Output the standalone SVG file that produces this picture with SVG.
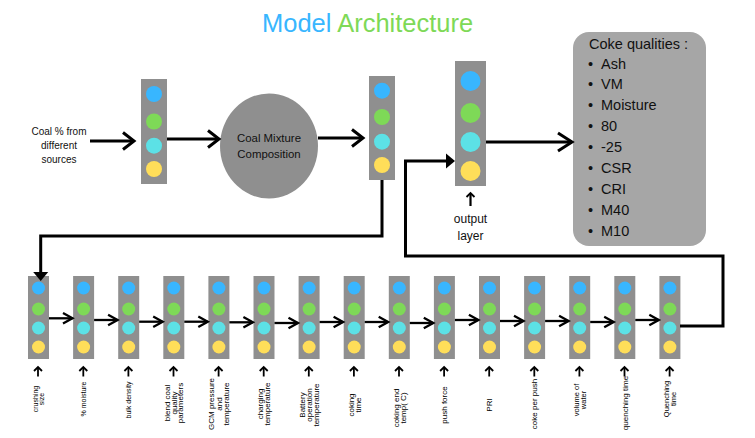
<svg xmlns="http://www.w3.org/2000/svg" width="755" height="438" viewBox="0 0 755 438">
<style>
text{font-family:"Liberation Sans",Arial,sans-serif;fill:#111}
.lay{fill:#8f8f8f}
.b{fill:#38b6ff}.g{fill:#7ed957}.c{fill:#5ce1e6}.y{fill:#ffde59}
.ln{fill:none;stroke:#000;stroke-width:3;stroke-linejoin:miter}
.sm{fill:none;stroke:#000;stroke-width:2.3}
.up{fill:none;stroke:#000;stroke-width:1.8}
.lbl{font-size:8px;text-anchor:middle;fill:#000}
.ck{font-size:14.5px}
</style>
<defs>
<marker id="chev" markerUnits="userSpaceOnUse" markerWidth="20" markerHeight="20" refX="11" refY="8.5" orient="auto" overflow="visible"><path d="M0,0 L11,8.5 L0,17" fill="none" stroke="#000" stroke-width="3"/></marker>
<marker id="chevL" markerUnits="userSpaceOnUse" markerWidth="20" markerHeight="20" refX="14" refY="9" orient="auto" overflow="visible"><path d="M0,0 L14,9 L0,18" fill="none" stroke="#000" stroke-width="3"/></marker>
<marker id="chevS" markerUnits="userSpaceOnUse" markerWidth="14" markerHeight="14" refX="9.5" refY="5.3" orient="auto" overflow="visible"><path d="M0,0 L9.5,5.3 L0,10.6" fill="none" stroke="#000" stroke-width="2.3"/></marker>
<marker id="chevU" markerUnits="userSpaceOnUse" markerWidth="8" markerHeight="10" refX="4" refY="4" orient="auto" overflow="visible"><path d="M0,0 L4,4 L0,8" fill="none" stroke="#000" stroke-width="1.8"/></marker>
<marker id="tri" markerUnits="userSpaceOnUse" markerWidth="12" markerHeight="16" refX="0" refY="7.5" orient="auto" overflow="visible"><path d="M0,0 L9,7.5 L0,15 Z" fill="#000"/></marker>
</defs>

<text x="262" y="32" style="font-size:25.5px"><tspan style="fill:#38b6ff">Model</tspan><tspan style="fill:#7ed957"> Architecture</tspan></text>

<g id="input-label">
<text x="59" y="135.3" style="font-size:10px;text-anchor:middle">Coal % from</text>
<text x="59" y="149.2" style="font-size:10px;text-anchor:middle">different</text>
<text x="59" y="162.6" style="font-size:10px;text-anchor:middle">sources</text>
</g>

<g id="input-layer">
<rect class="lay" x="141" y="79" width="26" height="105"/>
<circle class="b" cx="154" cy="94" r="8"/><circle class="g" cx="154" cy="121.5" r="8"/><circle class="c" cx="154" cy="145.7" r="8"/><circle class="y" cx="154" cy="169" r="8"/>
</g>

<g id="coal-mixture">
<ellipse cx="269" cy="146" rx="49" ry="52.5" fill="#8f8f8f"/>
<text x="269" y="142.4" style="font-size:11.4px;text-anchor:middle">Coal Mixture</text>
<text x="269" y="158.4" style="font-size:11.4px;text-anchor:middle">Composition</text>
</g>

<g id="mixture-layer">
<rect class="lay" x="369" y="76" width="26" height="104"/>
<circle class="b" cx="382" cy="90.7" r="8"/><circle class="g" cx="382" cy="117" r="8"/><circle class="c" cx="382" cy="141.7" r="8"/><circle class="y" cx="382" cy="165" r="8"/>
</g>

<g id="output-layer">
<rect class="lay" x="455" y="61" width="31" height="125"/>
<circle class="b" cx="470.5" cy="81" r="10"/><circle class="g" cx="470.5" cy="113" r="10"/><circle class="c" cx="470.5" cy="142" r="10"/><circle class="y" cx="470.5" cy="171" r="10"/>
<text x="470.5" y="222.5" style="font-size:12px;text-anchor:middle">output</text>
<text x="470.5" y="240" style="font-size:12px;text-anchor:middle">layer</text>
</g>

<g id="coke-qualities">
<rect x="573" y="32" width="133" height="214" rx="16" fill="#a6a6a6"/>
<text x="589" y="48.5" class="ck">Coke qualities :</text>
<text class="ck" x="588" y="68.5">•</text><text class="ck" x="601" y="68.5">Ash</text>
<text class="ck" x="588" y="89.4">•</text><text class="ck" x="601" y="89.4">VM</text>
<text class="ck" x="588" y="110.3">•</text><text class="ck" x="601" y="110.3">Moisture</text>
<text class="ck" x="588" y="131.2">•</text><text class="ck" x="601" y="131.2">80</text>
<text class="ck" x="588" y="152.1">•</text><text class="ck" x="601" y="152.1">-25</text>
<text class="ck" x="588" y="173">•</text><text class="ck" x="601" y="173">CSR</text>
<text class="ck" x="588" y="193.9">•</text><text class="ck" x="601" y="193.9">CRI</text>
<text class="ck" x="588" y="214.8">•</text><text class="ck" x="601" y="214.8">M40</text>
<text class="ck" x="588" y="235.7">•</text><text class="ck" x="601" y="235.7">M10</text>
</g>

<g id="L1"><rect class="lay" x="28" y="276" width="21" height="83"/><circle class="b" cx="38.5" cy="288" r="6.5"/><circle class="g" cx="38.5" cy="309" r="6.5"/><circle class="c" cx="38.5" cy="328" r="6.5"/><circle class="y" cx="38.5" cy="347" r="6.5"/>
<text class="lbl" style="font-size:7px" transform="translate(38.5,399) rotate(-90)"><tspan x="0" y="-0.8">crushing</tspan><tspan x="0" y="5.6">size</tspan></text></g>
<g id="L2"><rect class="lay" x="73.1" y="276" width="21" height="83"/><circle class="b" cx="83.6" cy="288" r="6.5"/><circle class="g" cx="83.6" cy="309" r="6.5"/><circle class="c" cx="83.6" cy="328" r="6.5"/><circle class="y" cx="83.6" cy="347" r="6.5"/>
<text class="lbl" style="font-size:7px" transform="translate(83.6,399) rotate(-90)"><tspan x="0" y="2.5">% moisture</tspan></text></g>
<g id="L3"><rect class="lay" x="118.2" y="276" width="21" height="83"/><circle class="b" cx="128.7" cy="288" r="6.5"/><circle class="g" cx="128.7" cy="309" r="6.5"/><circle class="c" cx="128.7" cy="328" r="6.5"/><circle class="y" cx="128.7" cy="347" r="6.5"/>
<text class="lbl" style="font-size:7px" transform="translate(128.7,400) rotate(-90)"><tspan x="0" y="2.5">bulk density</tspan></text></g>
<g id="L4"><rect class="lay" x="163.3" y="276" width="21" height="83"/><circle class="b" cx="173.8" cy="288" r="6.5"/><circle class="g" cx="173.8" cy="309" r="6.5"/><circle class="c" cx="173.8" cy="328" r="6.5"/><circle class="y" cx="173.8" cy="347" r="6.5"/>
<text class="lbl" transform="translate(173.8,403) rotate(-90)"><tspan x="0" y="-4">blend coal</tspan><tspan x="0" y="2.8">quality</tspan><tspan x="0" y="9.6">parameters</tspan></text></g>
<g id="L5"><rect class="lay" x="208.4" y="276" width="21" height="83"/><circle class="b" cx="218.9" cy="288" r="6.5"/><circle class="g" cx="218.9" cy="309" r="6.5"/><circle class="c" cx="218.9" cy="328" r="6.5"/><circle class="y" cx="218.9" cy="347" r="6.5"/>
<text class="lbl" transform="translate(218.9,404) rotate(-90)"><tspan x="0" y="-4.5">GCM pressure</tspan><tspan x="0" y="2.8">and</tspan><tspan x="0" y="10.1">temperature</tspan></text></g>
<g id="L6"><rect class="lay" x="253.5" y="276" width="21" height="83"/><circle class="b" cx="264" cy="288" r="6.5"/><circle class="g" cx="264" cy="309" r="6.5"/><circle class="c" cx="264" cy="328" r="6.5"/><circle class="y" cx="264" cy="347" r="6.5"/>
<text class="lbl" transform="translate(264,404) rotate(-90)"><tspan x="0" y="-0.7">charging</tspan><tspan x="0" y="6.3">temperature</tspan></text></g>
<g id="L7"><rect class="lay" x="298.6" y="276" width="21" height="83"/><circle class="b" cx="309.1" cy="288" r="6.5"/><circle class="g" cx="309.1" cy="309" r="6.5"/><circle class="c" cx="309.1" cy="328" r="6.5"/><circle class="y" cx="309.1" cy="347" r="6.5"/>
<text class="lbl" transform="translate(309.1,405) rotate(-90)"><tspan x="0" y="-4">Battery</tspan><tspan x="0" y="2.8">operation</tspan><tspan x="0" y="9.6">temperature</tspan></text></g>
<g id="L8"><rect class="lay" x="343.7" y="276" width="21" height="83"/><circle class="b" cx="354.2" cy="288" r="6.5"/><circle class="g" cx="354.2" cy="309" r="6.5"/><circle class="c" cx="354.2" cy="328" r="6.5"/><circle class="y" cx="354.2" cy="347" r="6.5"/>
<text class="lbl" transform="translate(354.2,405) rotate(-90)"><tspan x="0" y="-0.7">coking</tspan><tspan x="0" y="6.3">time</tspan></text></g>
<g id="L9"><rect class="lay" x="388.8" y="276" width="21" height="83"/><circle class="b" cx="399.3" cy="288" r="6.5"/><circle class="g" cx="399.3" cy="309" r="6.5"/><circle class="c" cx="399.3" cy="328" r="6.5"/><circle class="y" cx="399.3" cy="347" r="6.5"/>
<text class="lbl" transform="translate(399.3,408) rotate(-90)"><tspan x="0" y="-0.7">coking end</tspan><tspan x="0" y="6.3">temp( C)</tspan></text></g>
<g id="L10"><rect class="lay" x="433.9" y="276" width="21" height="83"/><circle class="b" cx="444.4" cy="288" r="6.5"/><circle class="g" cx="444.4" cy="309" r="6.5"/><circle class="c" cx="444.4" cy="328" r="6.5"/><circle class="y" cx="444.4" cy="347" r="6.5"/>
<text class="lbl" transform="translate(444.4,405) rotate(-90)"><tspan x="0" y="2.8">push force</tspan></text></g>
<g id="L11"><rect class="lay" x="479" y="276" width="21" height="83"/><circle class="b" cx="489.5" cy="288" r="6.5"/><circle class="g" cx="489.5" cy="309" r="6.5"/><circle class="c" cx="489.5" cy="328" r="6.5"/><circle class="y" cx="489.5" cy="347" r="6.5"/>
<text class="lbl" transform="translate(489.5,405) rotate(-90)"><tspan x="0" y="2.8">PRI</tspan></text></g>
<g id="L12"><rect class="lay" x="524.1" y="276" width="21" height="83"/><circle class="b" cx="534.6" cy="288" r="6.5"/><circle class="g" cx="534.6" cy="309" r="6.5"/><circle class="c" cx="534.6" cy="328" r="6.5"/><circle class="y" cx="534.6" cy="347" r="6.5"/>
<text class="lbl" transform="translate(534.6,404) rotate(-90)"><tspan x="0" y="2.8">coke per push</tspan></text></g>
<g id="L13"><rect class="lay" x="569.2" y="276" width="21" height="83"/><circle class="b" cx="579.7" cy="288" r="6.5"/><circle class="g" cx="579.7" cy="309" r="6.5"/><circle class="c" cx="579.7" cy="328" r="6.5"/><circle class="y" cx="579.7" cy="347" r="6.5"/>
<text class="lbl" style="font-size:7.5px" transform="translate(579.7,400) rotate(-90)"><tspan x="0" y="-0.7">volume of</tspan><tspan x="0" y="5.8">water</tspan></text></g>
<g id="L14"><rect class="lay" x="614.3" y="276" width="21" height="83"/><circle class="b" cx="624.8" cy="288" r="6.5"/><circle class="g" cx="624.8" cy="309" r="6.5"/><circle class="c" cx="624.8" cy="328" r="6.5"/><circle class="y" cx="624.8" cy="347" r="6.5"/>
<text class="lbl" transform="translate(624.8,403) rotate(-90)"><tspan x="0" y="2.8">quenching time</tspan></text></g>
<g id="L15"><rect class="lay" x="659.4" y="276" width="21" height="83"/><circle class="b" cx="669.9" cy="288" r="6.5"/><circle class="g" cx="669.9" cy="309" r="6.5"/><circle class="c" cx="669.9" cy="328" r="6.5"/><circle class="y" cx="669.9" cy="347" r="6.5"/>
<text class="lbl" style="font-size:7.5px" transform="translate(669.9,399) rotate(-90)"><tspan x="0" y="-0.7">Quenching</tspan><tspan x="0" y="5.8">time</tspan></text></g>

<g id="connectors">
<line class="ln" x1="90" y1="141" x2="134" y2="141" marker-end="url(#chev)"/>
<line class="ln" x1="167" y1="139" x2="219" y2="139" marker-end="url(#chev)"/>
<line class="ln" x1="318" y1="138" x2="363" y2="138" marker-end="url(#chev)"/>
<line class="ln" x1="486" y1="142" x2="572" y2="142" marker-end="url(#chevL)"/>
<line class="ln" x1="470.5" y1="206" x2="470.5" y2="193" marker-end="url(#chevU)" style="stroke-width:2.2"/>
<path class="ln" d="M382,180 V236 H40.7 V272" marker-end="url(#tri)"/>
<path class="ln" d="M680,326 H723 V256 H405.5 V161 H446" marker-end="url(#tri)"/>
<line class="sm" x1="49" y1="318.3" x2="72.5" y2="318.3" marker-end="url(#chevS)"/>
<line class="sm" x1="94.1" y1="320" x2="117.6" y2="320" marker-end="url(#chevS)"/>
<line class="sm" x1="139.2" y1="321.7" x2="162.7" y2="321.7" marker-end="url(#chevS)"/>
<line class="sm" x1="184.3" y1="321.7" x2="207.8" y2="321.7" marker-end="url(#chevS)"/>
<line class="sm" x1="229.4" y1="322.3" x2="252.9" y2="322.3" marker-end="url(#chevS)"/>
<line class="sm" x1="274.5" y1="323" x2="298" y2="323" marker-end="url(#chevS)"/>
<line class="sm" x1="319.6" y1="322" x2="343.1" y2="322" marker-end="url(#chevS)"/>
<line class="sm" x1="364.7" y1="322" x2="388.2" y2="322" marker-end="url(#chevS)"/>
<line class="sm" x1="409.8" y1="323" x2="433.3" y2="323" marker-end="url(#chevS)"/>
<line class="sm" x1="454.9" y1="320" x2="478.4" y2="320" marker-end="url(#chevS)"/>
<line class="sm" x1="500" y1="321" x2="523.5" y2="321" marker-end="url(#chevS)"/>
<line class="sm" x1="545.1" y1="321" x2="568.6" y2="321" marker-end="url(#chevS)"/>
<line class="sm" x1="590.2" y1="322" x2="613.7" y2="322" marker-end="url(#chevS)"/>
<line class="sm" x1="635.3" y1="320" x2="658.8" y2="320" marker-end="url(#chevS)"/>
<line class="up" x1="38" y1="376.5" x2="38" y2="367" marker-end="url(#chevU)"/>
<line class="up" x1="83.3" y1="376.5" x2="83.3" y2="367" marker-end="url(#chevU)"/>
<line class="up" x1="128.4" y1="376.5" x2="128.4" y2="367" marker-end="url(#chevU)"/>
<line class="up" x1="173.5" y1="376.5" x2="173.5" y2="367" marker-end="url(#chevU)"/>
<line class="up" x1="218.6" y1="376.5" x2="218.6" y2="367" marker-end="url(#chevU)"/>
<line class="up" x1="263.7" y1="376.5" x2="263.7" y2="367" marker-end="url(#chevU)"/>
<line class="up" x1="308.8" y1="376.5" x2="308.8" y2="367" marker-end="url(#chevU)"/>
<line class="up" x1="353.9" y1="376.5" x2="353.9" y2="367" marker-end="url(#chevU)"/>
<line class="up" x1="399" y1="376.5" x2="399" y2="367" marker-end="url(#chevU)"/>
<line class="up" x1="444.1" y1="376.5" x2="444.1" y2="367" marker-end="url(#chevU)"/>
<line class="up" x1="489.2" y1="376.5" x2="489.2" y2="367" marker-end="url(#chevU)"/>
<line class="up" x1="534.3" y1="376.5" x2="534.3" y2="367" marker-end="url(#chevU)"/>
<line class="up" x1="579.4" y1="376.5" x2="579.4" y2="367" marker-end="url(#chevU)"/>
<line class="up" x1="624.5" y1="376.5" x2="624.5" y2="367" marker-end="url(#chevU)"/>
<line class="up" x1="669.6" y1="376.5" x2="669.6" y2="367" marker-end="url(#chevU)"/>
</g>
</svg>
